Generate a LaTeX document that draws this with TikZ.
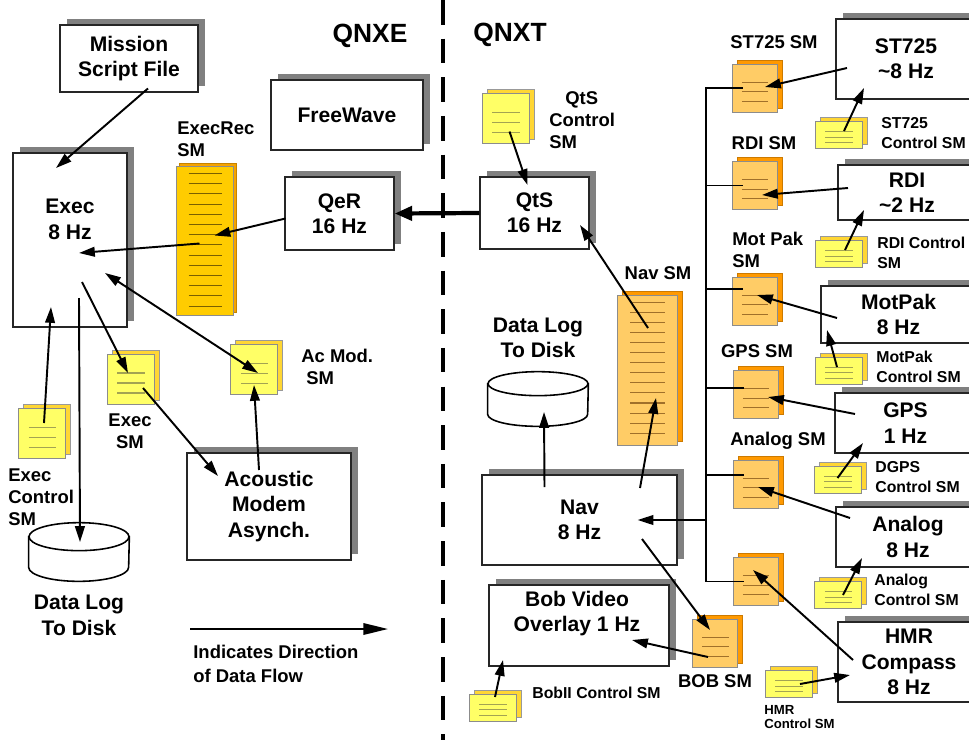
\documentclass[tikz,border=0pt]{standalone}
\usepackage{fontspec}
\setmainfont{Liberation Sans}
\usepackage{tikz}
\usetikzlibrary{shapes.geometric,arrows.meta,positioning,calc,shadows}
\definecolor{smyellow}{HTML}{FFFF66}
\definecolor{smyellowbk}{HTML}{FFD633}
\definecolor{smorange}{HTML}{FFCC66}
\definecolor{smorangebk}{HTML}{FF9900}
\definecolor{smgold}{HTML}{FFCC00}
\definecolor{smgoldbk}{HTML}{F5A300}
\definecolor{ruleyl}{HTML}{A3A352}
\definecolor{ruleor}{HTML}{A0702A}
\definecolor{rulegd}{HTML}{7A6000}
\tikzset{
  box/.style     = {rectangle, draw=black!85, line width=0.7pt, fill=white,
                    align=center, font={\fontsize{12}{14.5}\selectfont\bfseries},
                    general shadow={fill=black!50, shadow xshift=0.14cm,
                    shadow yshift=0.12cm}},
  boxtxt/.style  = {align=center, inner sep=0pt,
                    font={\fontsize{12}{14.5}\selectfont\bfseries}},
  head/.style    = {inner sep=0pt, font={\fontsize{15}{18}\selectfont\bfseries}},
  lbl/.style     = {align=left, inner sep=0pt,
                    font={\fontsize{10.5}{12.5}\selectfont\bfseries}},
  ctl/.style     = {align=left, inner sep=0pt,
                    font={\fontsize{9}{11}\selectfont\bfseries}},
  tinylbl/.style = {align=left, inner sep=0pt,
                    font={\fontsize{7.5}{8.5}\selectfont\bfseries}},
  rules/.style 2 args = {path picture={
      \foreach \f in {#2}
        \draw[#1, line width=0.6pt]
          let \p1=(path picture bounding box.north west),
              \p2=(path picture bounding box.south east) in
          ({\x1+0.22*(\x2-\x1)},{\y1+\f*(\y2-\y1)}) --
          ({\x1+0.8*(\x2-\x1)},{\y1+\f*(\y2-\y1)});}},
  ydoc/.style    = {rectangle, draw=black!45, line width=0.4pt, fill=smyellow,
                    inner sep=0pt, minimum width=0.94cm, minimum height=1cm,
                    general shadow={fill=smyellowbk, draw=black!40,
                    shadow xshift=0.1cm, shadow yshift=0.08cm},
                    rules={ruleyl}{0.38,0.58,0.78}},
  yflat/.style   = {ydoc, minimum height=0.54cm},
  odoc/.style    = {rectangle, draw=black!45, line width=0.4pt, fill=smorange,
                    inner sep=0pt, minimum width=0.9cm, minimum height=0.96cm,
                    general shadow={fill=smorangebk, draw=smorangebk!80!black,
                    shadow xshift=0.1cm, shadow yshift=0.08cm},
                    rules={ruleor}{0.38,0.58,0.78}},
  gdoc/.style    = {rectangle, draw=black!45, line width=0.4pt, fill=smgold,
                    inner sep=0pt, minimum width=1.14cm, minimum height=2.98cm,
                    general shadow={fill=smgoldbk, draw=smgoldbk!80!black,
                    shadow xshift=0.06cm, shadow yshift=0.06cm},
                    rules={rulegd}{0.05,0.1185,...,0.95}},
  dbase/.style   = {rectangle, inner sep=0pt, minimum width=2cm},
  dbline/.style  = {draw=black, line width=0.9pt, fill=white},
  arr/.style     = {-{Triangle[length=9pt,width=5.5pt]}, line width=1.1pt},
  darr/.style    = {{Triangle[length=9pt,width=5.5pt]}-{Triangle[length=9pt,width=5.5pt]},
                    line width=1.1pt},
  tarr/.style    = {-{Triangle[length=10pt,width=8pt]}, line width=2.4pt},
  larr/.style    = {-{Triangle[length=14pt,width=6.5pt]}, line width=1.1pt},
  bus/.style     = {line width=1.1pt},
  divider/.style = {line width=2.4pt, dash pattern=on 14pt off 8pt},
}
\begin{document}
\begin{tikzpicture}[x=0.02cm, y=-0.02cm]
\path[use as bounding box, fill=white] (0,0) rectangle (969,740);

%% Divider and headings
\coordinate (divtop) at (443,0);
\coordinate (divbot) at (443,740);
\draw[divider] (divtop) -- (divbot);
\node[head] (qnxe) at (370,36) {QNXE};
\node[head] (qnxt) at (510,35) {QNXT};

%% QNXE side
\node[box, minimum width=2.76cm, minimum height=1.34cm] (mission) at (129,58.5) {Mission\\Script File};
\node[box, minimum width=2.28cm, minimum height=3.48cm] (exec) at (70,240) {};
\node[boxtxt] (exectxt) at (70,219.5) {Exec\\8 Hz};
\node[box, minimum width=3.04cm, minimum height=1.4cm] (freewave) at (347,115) {FreeWave};
\node[box, minimum width=2.18cm, minimum height=1.46cm] (qer) at (339.5,213.5) {QeR\\16 Hz};
\node[box, minimum width=3.28cm, minimum height=2.14cm] (acoustic) at (269,506.5) {Acoustic\\Modem\\Asynch.};

\node[gdoc] (execrecsm) at (204.5,240.5) {};
\node[lbl, anchor=west] (execreclbl) at (177,139) {ExecRec\\SM};
\node[ydoc] (execsm) at (130.5,379) {};
\node[lbl, align=center] (execsmlbl) at (130,431) {Exec\\SM};
\node[ydoc] (execctl) at (42,433.5) {};
\node[lbl, anchor=west] (execctllbl) at (8,497) {Exec\\Control\\SM};
\node[ydoc] (acmodsm) at (254,369.5) {};
\node[lbl, anchor=west] (acmodlbl) at (301,367) {Ac Mod.\\\hspace*{0.1cm}SM};

%% Data log (left)
\node[dbase, minimum height=1.16cm] (logl) at (79,552) {};
\draw[dbline] ($(logl.north west)+(0,14)$) -- ($(logl.south west)+(0,-14)$)
  arc[start angle=180, end angle=360, x radius=1cm, y radius=0.28cm]
  -- ($(logl.north east)+(0,14)$) -- cycle;
\draw[dbline] ($(logl.north)+(0,14)$) ellipse[x radius=1cm, y radius=0.28cm];
\node[boxtxt, below=0.27cm of logl] (logllbl) {Data Log\\To Disk};

%% Legend
\coordinate (flowa) at (190,629);
\coordinate (flowb) at (388,629);
\draw[larr] (flowa) -- (flowb);
\node[lbl, anchor=west, font={\fontsize{10.5}{13.5}\selectfont\bfseries}] (legend) at (193,664)
  {Indicates Direction\\of Data Flow};

%% QNXT side
\node[box, minimum width=2.18cm, minimum height=1.44cm] (qts) at (534.5,213) {QtS\\16 Hz};
\node[ydoc] (qtsctl) at (505.5,118.5) {};
\node[lbl, anchor=west] (qtsctllbl) at (549,120) {\hspace*{0.32cm}QtS\\Control\\SM};
\node[box, minimum width=3.9cm, minimum height=1.8cm] (nav) at (579.5,520) {Nav\\8 Hz};
\node[odoc, minimum width=1.2cm, minimum height=3cm, rules={ruleor}{0.05,0.117,...,0.95}]
  (navsm) at (647,370) {};
\node[lbl] (navsmlbl) at (658,273) {Nav SM};

%% Data log (right)
\node[dbase, minimum height=1.08cm] (logr) at (538,399) {};
\draw[dbline] ($(logr.north west)+(0,12)$) -- ($(logr.south west)+(0,-12)$)
  arc[start angle=180, end angle=360, x radius=1cm, y radius=0.24cm]
  -- ($(logr.north east)+(0,12)$) -- cycle;
\draw[dbline] ($(logr.north)+(0,12)$) ellipse[x radius=1cm, y radius=0.24cm];
\node[boxtxt, above=0.27cm of logr] (logrlbl) {Data Log\\To Disk};

\node[box, minimum width=3.6cm, minimum height=1.62cm] (bob) at (579,625.5) {};
\node[boxtxt] (bobtxt) at (577,613.5) {Bob Video\\Overlay 1 Hz};
\node[yflat] (bobctl) at (492.5,707.5) {};
\node[ctl, anchor=west] (bobctllbl) at (532,693) {BobII Control SM};
\node[odoc] (bobsm) at (715,643) {};
\node[lbl, below=0.14cm of bobsm] (bobsmlbl) {BOB SM};

%% Sensors
\node[box, minimum width=2.8cm, minimum height=1.6cm] (st725) at (906,59) {ST725\\\textasciitilde8 Hz};
\node[box, minimum width=2.76cm, minimum height=1.1cm] (rdi) at (907,192.5) {RDI\\\textasciitilde2 Hz};
\node[box, minimum width=3.1cm, minimum height=1.14cm] (motpak) at (898.5,314.5) {MotPak\\8 Hz};
\node[box, minimum width=2.82cm, minimum height=1.2cm] (gps) at (905.5,423) {GPS\\1 Hz};
\node[box, minimum width=2.88cm, minimum height=1.2cm] (analog) at (908,537) {Analog\\8 Hz};
\node[box, minimum width=2.84cm, minimum height=1.6cm] (hmr) at (909,662) {HMR\\Compass\\8 Hz};

\node[odoc] (st725sm) at (754.5,88) {};
\node[lbl] (st725smlbl) at (774,42.5) {ST725 SM};
\node[odoc] (rdism) at (754.5,185.5) {};
\node[lbl] (rdismlbl) at (764,143) {RDI SM};
\node[odoc] (motpaksm) at (754.5,301) {};
\node[lbl, anchor=west] (motpaksmlbl) at (732,250) {Mot Pak\\SM};
\node[odoc] (gpssm) at (755.5,394.5) {};
\node[lbl] (gpssmlbl) at (757,351) {GPS SM};
\node[odoc] (analogsm) at (755.5,484) {};
\node[lbl] (analogsmlbl) at (778,441) {Analog SM};
\node[odoc] (hmrsm) at (755.5,581.5) {};

\node[yflat] (st725ctl) at (838.5,135) {};
\node[ctl, anchor=west] (st725ctllbl) at (881,133) {ST725\\Control SM};
\node[yflat] (rdictl) at (838.5,254) {};
\node[ctl, anchor=west] (rdictllbl) at (877,253) {RDI Control\\SM};
\node[yflat] (motpakctl) at (838.5,370.5) {};
\node[ctl, anchor=west] (motpakctllbl) at (876,367) {MotPak\\Control SM};
\node[yflat] (dgpsctl) at (837.5,479.5) {};
\node[ctl, anchor=west] (dgpsctllbl) at (875,477) {DGPS\\Control SM};
\node[yflat] (analogctl) at (838,595) {};
\node[ctl, anchor=west] (analogctllbl) at (874,590) {Analog\\Control SM};
\node[yflat] (hmrctl) at (788.5,684) {};
\node[tinylbl, anchor=west] (hmrctllbl) at (764,717) {HMR\\Control SM};

%% Bus
\coordinate (bus) at (706,330);
\draw[bus] ([xshift=0.22cm]st725sm.west) -| (bus) |- ([xshift=0.22cm]hmrsm.west);
\draw[bus] (rdism.west -| bus) -- ([xshift=0.22cm]rdism.west);
\draw[bus] (motpaksm.152 -| bus) -- ([xshift=0.22cm]motpaksm.152);
\draw[bus] (gpssm.164 -| bus) -- ([xshift=0.22cm]gpssm.164);
\draw[bus] (analogsm.158 -| bus) -- ([xshift=0.22cm]analogsm.158);
\draw[arr] (nav.east -| bus) -- ([xshift=-0.8cm]nav.east);

%% Data flow, QNXE
\draw[arr] ($(mission)+(19,30)$) -- ($(exec)+(-14,-72)$);
\draw[arr] ($(execrecsm)+(-5,3)$) -- ($(exec)+(9,13)$);
\draw[arr] ($(qer)+(-54,5)$) -- ($(execrecsm)+(10,-5)$);
\draw[tarr] (qts.west) -- (qer.east);
\draw[arr] ($(execctl)+(2,-10.5)$) -- ($(exec)+(-19,67)$);
\draw[arr] ($(exec)+(9,58)$) -- ($(logl)+(1,-10)$);
\draw[arr] ($(exec)+(12,42)$) -- ($(execsm)+(-2.5,-6)$);
\draw[arr] ($(execsm)+(12.5,9)$) -- ($(acoustic)+(-51,-30.5)$);
\draw[darr] ($(exec)+(35,33)$) -- ($(acmodsm)+(4,3.5)$);
\draw[arr] ($(acoustic)+(-10,-36.5)$) -- ($(acmodsm)+(0,15.5)$);

%% Data flow, QNXT
\draw[arr] ($(qtsctl)+(4,13)$) -- ($(qts)+(-7,-28)$);
\draw[arr] ($(navsm)+(1,-42)$) -- ($(qts)+(45.5,12)$);
\draw[arr] ($(nav)+(-35,-33)$) -- ($(logr)+(6,13)$);
\draw[arr] ($(nav)+(60.5,-32)$) -- ($(navsm)+(9,28)$);
\draw[arr] ($(nav)+(62.5,19)$) -- ($(bobsm)+(-5,-13)$);
\draw[arr] ($(bobsm)+(-7,14)$) -- ($(bob)+(53,14.5)$);
\draw[arr] ($(bobctl)+(2.5,-10.5)$) -- ($(bob)+(-76,34.5)$);
\draw[arr] ($(st725)+(-59,9)$) -- ($(st725sm)+(10.5,-1)$);
\draw[arr] ($(st725ctl)+(5.5,-4)$) -- ($(st725)+(-42,29)$);
\draw[arr] ($(rdi)+(-59,-4.5)$) -- ($(rdism)+(7.5,9.5)$);
\draw[arr] ($(rdictl)+(6.5,-4)$) -- ($(rdi)+(-43,17.5)$);
\draw[arr] ($(motpak)+(-61.5,3.5)$) -- ($(motpaksm)+(2.5,-6)$);
\draw[arr] ($(motpakctl)+(-1.5,-3.5)$) -- ($(motpak)+(-71.5,15.5)$);
\draw[arr] ($(gps)+(-50.5,-9)$) -- ($(gpssm)+(12.5,2.5)$);
\draw[arr] ($(dgpsctl)+(0,-1.5)$) -- ($(gps)+(-42.5,20)$);
\draw[arr] ($(analog)+(-58,-19)$) -- ($(analogsm)+(2.5,3)$);
\draw[arr] ($(analogctl)+(5,0)$) -- ($(analog)+(-46,21)$);
\draw[arr] ($(hmr)+(-56,-2)$) -- ($(hmrsm)+(-2.5,-11.5)$);
\draw[arr] ($(hmrctl)+(11.5,0)$) -- ($(hmr)+(-59,13)$);

\end{tikzpicture}
\end{document}
